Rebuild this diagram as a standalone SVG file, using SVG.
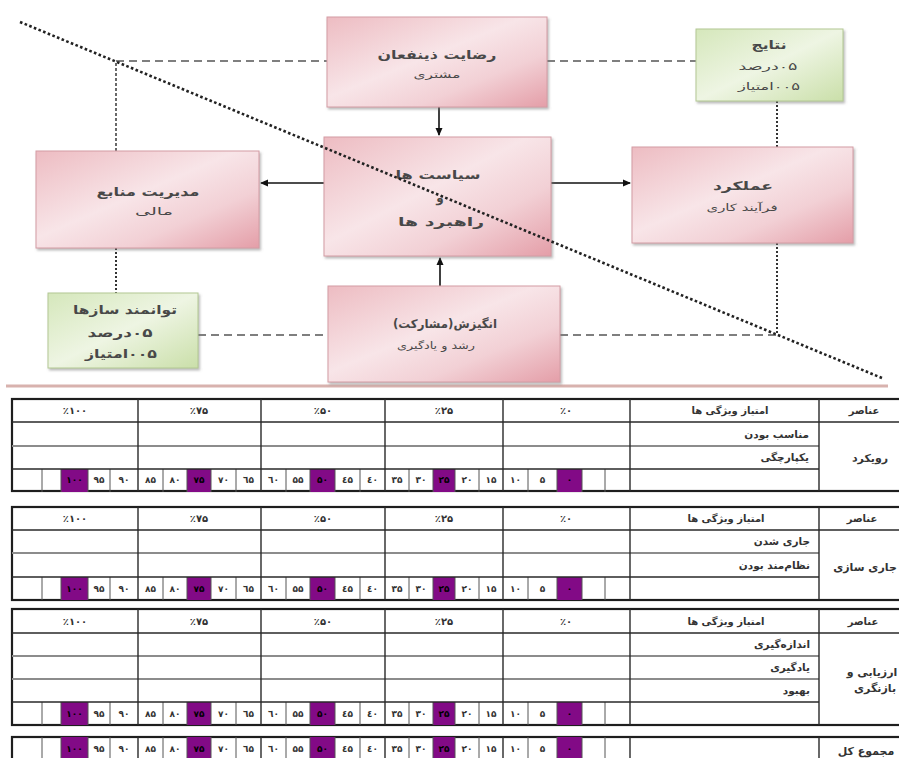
<svg xmlns="http://www.w3.org/2000/svg" width="899" height="758" viewBox="0 0 899 758">
<style>
text{font-family:"DejaVu Sans","Noto Sans",sans-serif;fill:#333}
.bx{stroke:#d39ca4;stroke-width:1;filter:url(#sh)}
.pk{fill:url(#gp)}
.gr{fill:url(#gg);stroke:#b3c893;stroke-width:1;filter:url(#sh)}
.t1{font-size:12px;text-anchor:middle;font-weight:bold;fill:#484848}
.t2{font-size:10px;text-anchor:middle;fill:#484848}
.dash{fill:none;stroke:#555;stroke-width:1.6;stroke-dasharray:8 5}
.vdash{fill:none;stroke:#444;stroke-width:1.6;stroke-dasharray:3 2}
.dot{fill:none;stroke:#333;stroke-width:2;stroke-dasharray:2 2}
.diag{fill:none;stroke:#222;stroke-width:2.6;stroke-dasharray:2.6 2.4}
.arr{fill:none;stroke:#111;stroke-width:1.6;marker-end:url(#ah)}
.ob{fill:#fff;stroke:#1e1e1e;stroke-width:2.2}
.hl{stroke:#2a2a2a;stroke-width:1.5;fill:none}
.rl{stroke:#8c8c8c;stroke-width:2;fill:none}
.vg{stroke:#2a2a2a;stroke-width:1.4;fill:none}
.vc{stroke:#555;stroke-width:1;fill:none}
.pp{fill:#820a86}
.hd{font-size:10px;font-weight:bold;text-anchor:middle}
.nm{font-size:9px;font-weight:bold;text-anchor:middle}
.nm.on{fill:#000}
.lb{font-size:10.5px;font-weight:bold;text-anchor:end}
.el{font-size:11px;font-weight:bold;text-anchor:middle}
</style>
<defs>
<linearGradient id="gp" x1="0" y1="0" x2="1" y2="1">
<stop offset="0" stop-color="#edbcc2"/>
<stop offset="0.45" stop-color="#f8e5e8"/>
<stop offset="0.7" stop-color="#f2d0d5"/>
<stop offset="1" stop-color="#e49ea8"/>
</linearGradient>
<linearGradient id="gg" x1="0" y1="0" x2="1" y2="1">
<stop offset="0" stop-color="#d5e7bb"/>
<stop offset="0.5" stop-color="#eef5e3"/>
<stop offset="1" stop-color="#cadfa9"/>
</linearGradient>
<filter id="sh" x="-5%" y="-5%" width="115%" height="120%">
<feDropShadow dx="1.5" dy="2" stdDeviation="1.2" flood-color="#777" flood-opacity="0.5"/>
</filter>
<marker id="ah" markerWidth="8" markerHeight="8" refX="7" refY="4" orient="auto" markerUnits="userSpaceOnUse">
<path d="M0,0.5 L8,4 L0,7.5 Z" fill="#111"/>
</marker>
<g id="nr">
<rect class="pp" x="61" y="0" width="27" height="23"/>
<rect class="pp" x="187" y="0" width="24" height="23"/>
<rect class="pp" x="310" y="0" width="25" height="23"/>
<rect class="pp" x="433" y="0" width="22" height="23"/>
<rect class="pp" x="557" y="0" width="25" height="23"/>
<path class="vc" d="M42,0V23M61,0V23M88,0V23M110,0V23M163,0V23M187,0V23M211,0V23M236,0V23M286,0V23M310,0V23M335,0V23M360,0V23M409,0V23M433,0V23M455,0V23M479,0V23M528,0V23M557,0V23M582,0V23M605,0V23"/>
</g>
</defs>

<line x1="6" y1="386" x2="888" y2="386" stroke="#d8b2ae" stroke-width="3"/>

<g id="connectors">
<path class="vdash" d="M116,151V61"/>
<path class="dash" d="M116,61H327"/>
<path class="dash" d="M547,61H696"/>
<path class="dot" d="M777,101V147"/>
<path class="dot" d="M116,248V293"/>
<path class="dash" d="M198,335H328"/>
<path class="dash" d="M560,335H777"/>
<path class="dot" d="M777,243V335"/>
<path class="arr" d="M439,107V135"/>
<path class="arr" d="M440,286V258"/>
<path class="arr" d="M324,183H261"/>
<path class="arr" d="M551,183H630"/>
</g>

<g id="n-rezayat">
<rect class="bx pk" x="327" y="17" width="220" height="90"/>
<text class="t1" x="437" y="59" textLength="119" lengthAdjust="spacingAndGlyphs">رضایت ذینفعان</text>
<text class="t2" x="437" y="78" textLength="47" lengthAdjust="spacingAndGlyphs">مشتری</text>
</g>
<g id="n-siasat">
<rect class="bx pk" x="324" y="137" width="227" height="119"/>
<text class="t1" x="438" y="179" textLength="85" lengthAdjust="spacingAndGlyphs">سیاست ها</text>
<text class="t1" x="440" y="202">و</text>
<text class="t1" x="441" y="226" textLength="86" lengthAdjust="spacingAndGlyphs">راهبرد ها</text>
</g>
<g id="n-angizesh">
<rect class="bx pk" x="328" y="286" width="232" height="96"/>
<text class="t1" x="445" y="328" textLength="104" lengthAdjust="spacingAndGlyphs">&#x200F;انگیزش(مشارکت)&#x200F;</text>
<text class="t2" x="436" y="349" textLength="78" lengthAdjust="spacingAndGlyphs">رشد و یادگیری</text>
</g>
<g id="n-modiriyat">
<rect class="bx pk" x="36" y="151" width="223" height="97"/>
<text class="t1" x="148" y="196" textLength="103" lengthAdjust="spacingAndGlyphs">مدیریت منابع</text>
<text class="t2" x="154" y="215" textLength="38" lengthAdjust="spacingAndGlyphs">مالی</text>
</g>
<g id="n-amalkard">
<rect class="bx pk" x="632" y="147" width="221" height="96"/>
<text class="t1" x="743" y="190" textLength="60" lengthAdjust="spacingAndGlyphs">عملکرد</text>
<text class="t2" x="742" y="211" textLength="71" lengthAdjust="spacingAndGlyphs">فرآیند کاری</text>
</g>
<g id="n-natayej">
<rect class="gr" x="696" y="29" width="147" height="72"/>
<text class="t1" x="769" y="49" textLength="35" lengthAdjust="spacingAndGlyphs">نتایج</text>
<text class="t2" x="768" y="70" textLength="59" lengthAdjust="spacingAndGlyphs">&#x200F;۰۵درصد</text>
<text class="t2" x="769" y="90" textLength="62" lengthAdjust="spacingAndGlyphs">&#x200F;۰۰۵امتیاز</text>
</g>
<g id="n-tavanmand">
<rect class="gr" x="48" y="293" width="150" height="75"/>
<text class="t1" x="125" y="314" textLength="104" lengthAdjust="spacingAndGlyphs">توانمند سازها</text>
<text class="t1" x="120" y="337" textLength="65" lengthAdjust="spacingAndGlyphs">&#x200F;۰۵درصد</text>
<text class="t1" x="121" y="358" textLength="72" lengthAdjust="spacingAndGlyphs">&#x200F;۰۰۵امتیاز</text>
</g>

<path id="diagonal" class="diag" d="M20,22L882,378"/>

<!-- Table 1 -->
<g id="table-1">
<rect class="ob" x="12" y="399" width="892" height="92"/>
<use href="#nr" y="469"/>
<path class="rl" d="M12,446H819"/>
<path class="hl" d="M12,422H904M12,469H819"/>
<path class="vg" d="M138,399V491M261,399V491M385,399V491M503,399V491M630,399V491M819,399V491"/>
<text class="hd" x="75" y="414">٪۱۰۰</text>
<text class="hd" x="199" y="414">٪۷۵</text>
<text class="hd" x="323" y="414">٪۵۰</text>
<text class="hd" x="444" y="414">٪۲۵</text>
<text class="hd" x="566" y="414">٪۰</text>
<text class="hd" x="730" y="414">امتیاز ویژگی ها</text>
<text class="hd" x="864" y="414">عناصر</text>
<text class="lb" x="809" y="438">مناسب بودن</text>
<text class="lb" x="809" y="461">یکپارچگی</text>
<text class="el" x="870" y="462">رویکرد</text>
<g class="nums">
<text class="nm on" x="74.5" y="483">۱۰۰</text><text class="nm" x="99" y="483">۹۵</text><text class="nm" x="124" y="483">۹۰</text>
<text class="nm" x="150.5" y="483">۸۵</text><text class="nm" x="175" y="483">۸۰</text><text class="nm on" x="199" y="483">۷۵</text><text class="nm" x="223.5" y="483">۷۰</text><text class="nm" x="248.5" y="483">٦۵</text>
<text class="nm" x="273.5" y="483">٦۰</text><text class="nm" x="298" y="483">۵۵</text><text class="nm on" x="322.5" y="483">۵۰</text><text class="nm" x="347.5" y="483">٤۵</text><text class="nm" x="372.5" y="483">٤۰</text>
<text class="nm" x="397" y="483">۳۵</text><text class="nm" x="421" y="483">۳۰</text><text class="nm on" x="444" y="483">۲۵</text><text class="nm" x="467" y="483">۲۰</text><text class="nm" x="491" y="483">۱۵</text>
<text class="nm" x="515.5" y="483">۱۰</text><text class="nm" x="542.5" y="483">۵</text><text class="nm on" x="569.5" y="483">۰</text>
</g>
</g>

<!-- Table 2 -->
<g id="table-2">
<rect class="ob" x="12" y="507" width="892" height="93"/>
<use href="#nr" y="577"/>
<path class="rl" d="M12,553H819"/>
<path class="hl" d="M12,530H904M12,577H819"/>
<path class="vg" d="M138,507V600M261,507V600M385,507V600M503,507V600M630,507V600M819,507V600"/>
<text class="hd" x="75" y="522">٪۱۰۰</text>
<text class="hd" x="199" y="522">٪۷۵</text>
<text class="hd" x="323" y="522">٪۵۰</text>
<text class="hd" x="444" y="522">٪۲۵</text>
<text class="hd" x="566" y="522">٪۰</text>
<text class="hd" x="726" y="522">امتیاز ویژگی ها</text>
<text class="hd" x="862" y="522">عناصر</text>
<text class="lb" x="810" y="545">جاری شدن</text>
<text class="lb" x="810" y="569">نظام&#x200C;مند بودن</text>
<text class="el" x="865" y="571">جاری سازی</text>
<g class="nums">
<text class="nm on" x="74.5" y="592">۱۰۰</text><text class="nm" x="99" y="592">۹۵</text><text class="nm" x="124" y="592">۹۰</text>
<text class="nm" x="150.5" y="592">۸۵</text><text class="nm" x="175" y="592">۸۰</text><text class="nm on" x="199" y="592">۷۵</text><text class="nm" x="223.5" y="592">۷۰</text><text class="nm" x="248.5" y="592">٦۵</text>
<text class="nm" x="273.5" y="592">٦۰</text><text class="nm" x="298" y="592">۵۵</text><text class="nm on" x="322.5" y="592">۵۰</text><text class="nm" x="347.5" y="592">٤۵</text><text class="nm" x="372.5" y="592">٤۰</text>
<text class="nm" x="397" y="592">۳۵</text><text class="nm" x="421" y="592">۳۰</text><text class="nm on" x="444" y="592">۲۵</text><text class="nm" x="467" y="592">۲۰</text><text class="nm" x="491" y="592">۱۵</text>
<text class="nm" x="515.5" y="592">۱۰</text><text class="nm" x="542.5" y="592">۵</text><text class="nm on" x="569.5" y="592">۰</text>
</g>
</g>

<!-- Table 3 -->
<g id="table-3">
<rect class="ob" x="12" y="609" width="892" height="116"/>
<use href="#nr" y="702"/>
<path class="rl" d="M12,656H819M12,679H819"/>
<path class="hl" d="M12,633H904M12,702H819"/>
<path class="vg" d="M138,609V725M261,609V725M385,609V725M503,609V725M630,609V725M819,609V725"/>
<text class="hd" x="75" y="625">٪۱۰۰</text>
<text class="hd" x="199" y="625">٪۷۵</text>
<text class="hd" x="323" y="625">٪۵۰</text>
<text class="hd" x="444" y="625">٪۲۵</text>
<text class="hd" x="566" y="625">٪۰</text>
<text class="hd" x="726" y="625">امتیاز ویژگی ها</text>
<text class="hd" x="863" y="625">عناصر</text>
<text class="lb" x="810" y="648">اندازه&#x200C;گیری</text>
<text class="lb" x="810" y="671">یادگیری</text>
<text class="lb" x="810" y="694">بهبود</text>
<text class="el" x="872" y="676">ارزیابی و</text>
<text class="el" x="875" y="692">بازنگری</text>
<g class="nums">
<text class="nm on" x="74.5" y="717">۱۰۰</text><text class="nm" x="99" y="717">۹۵</text><text class="nm" x="124" y="717">۹۰</text>
<text class="nm" x="150.5" y="717">۸۵</text><text class="nm" x="175" y="717">۸۰</text><text class="nm on" x="199" y="717">۷۵</text><text class="nm" x="223.5" y="717">۷۰</text><text class="nm" x="248.5" y="717">٦۵</text>
<text class="nm" x="273.5" y="717">٦۰</text><text class="nm" x="298" y="717">۵۵</text><text class="nm on" x="322.5" y="717">۵۰</text><text class="nm" x="347.5" y="717">٤۵</text><text class="nm" x="372.5" y="717">٤۰</text>
<text class="nm" x="397" y="717">۳۵</text><text class="nm" x="421" y="717">۳۰</text><text class="nm on" x="444" y="717">۲۵</text><text class="nm" x="467" y="717">۲۰</text><text class="nm" x="491" y="717">۱۵</text>
<text class="nm" x="515.5" y="717">۱۰</text><text class="nm" x="542.5" y="717">۵</text><text class="nm on" x="569.5" y="717">۰</text>
</g>
</g>

<!-- Table 4 -->
<g id="table-4">
<rect class="ob" x="12" y="737" width="892" height="30"/>
<use href="#nr" y="737"/>
<path class="vg" d="M138,737V767M261,737V767M385,737V767M503,737V767M630,737V767M819,737V767"/>
<text class="el" x="866" y="755">مجموع کل</text>
<g class="nums">
<text class="nm on" x="74.5" y="752">۱۰۰</text><text class="nm" x="99" y="752">۹۵</text><text class="nm" x="124" y="752">۹۰</text>
<text class="nm" x="150.5" y="752">۸۵</text><text class="nm" x="175" y="752">۸۰</text><text class="nm on" x="199" y="752">۷۵</text><text class="nm" x="223.5" y="752">۷۰</text><text class="nm" x="248.5" y="752">٦۵</text>
<text class="nm" x="273.5" y="752">٦۰</text><text class="nm" x="298" y="752">۵۵</text><text class="nm on" x="322.5" y="752">۵۰</text><text class="nm" x="347.5" y="752">٤۵</text><text class="nm" x="372.5" y="752">٤۰</text>
<text class="nm" x="397" y="752">۳۵</text><text class="nm" x="421" y="752">۳۰</text><text class="nm on" x="444" y="752">۲۵</text><text class="nm" x="467" y="752">۲۰</text><text class="nm" x="491" y="752">۱۵</text>
<text class="nm" x="515.5" y="752">۱۰</text><text class="nm" x="542.5" y="752">۵</text><text class="nm on" x="569.5" y="752">۰</text>
</g>
</g>
</svg>
